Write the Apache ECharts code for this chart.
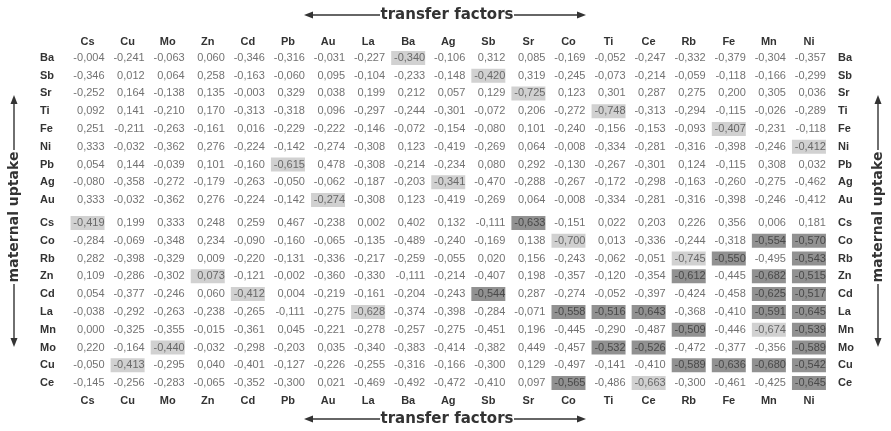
<!DOCTYPE html>
<html>
<head>
<meta charset="utf-8">
<script src="https://cdn.jsdelivr.net/npm/echarts@6/dist/echarts.min.js"></script>
<style>
  html, body { margin: 0; padding: 0; background: #ffffff; }
  #chart { width: 891px; height: 431px; }
</style>
</head>
<body>
<div id="chart"></div>
<script>
// Column elements (transfer factors)
const columns = ['Cs','Cu','Mo','Zn','Cd','Pb','Au','La','Ba','Ag','Sb','Sr','Co','Ti','Ce','Rb','Fe','Mn','Ni'];

// Row elements (maternal uptake), upper and lower blocks
const upperRows = ['Ba','Sb','Sr','Ti','Fe','Ni','Pb','Ag','Au'];
const lowerRows = ['Cs','Co','Rb','Zn','Cd','La','Mn','Mo','Cu','Ce'];

// Correlation coefficients, one array per row element, in column order
const rowBa = [-0.004,-0.241,-0.063, 0.060,-0.346,-0.316,-0.031,-0.227,-0.340,-0.106, 0.312, 0.085,-0.169,-0.052,-0.247,-0.332,-0.379,-0.304,-0.357];
const rowSb = [-0.346, 0.012, 0.064, 0.258,-0.163,-0.060, 0.095,-0.104,-0.233,-0.148,-0.420, 0.319,-0.245,-0.073,-0.214,-0.059,-0.118,-0.166,-0.299];
const rowSr = [-0.252, 0.164,-0.138, 0.135,-0.003, 0.329, 0.038, 0.199, 0.212, 0.057, 0.129,-0.725, 0.123, 0.301, 0.287, 0.275, 0.200, 0.305, 0.036];
const rowTi = [ 0.092, 0.141,-0.210, 0.170,-0.313,-0.318, 0.096,-0.297,-0.244,-0.301,-0.072, 0.206,-0.272,-0.748,-0.313,-0.294,-0.115,-0.026,-0.289];
const rowFe = [ 0.251,-0.211,-0.263,-0.161, 0.016,-0.229,-0.222,-0.146,-0.072,-0.154,-0.080, 0.101,-0.240,-0.156,-0.153,-0.093,-0.407,-0.231,-0.118];
const rowNi = [ 0.333,-0.032,-0.362, 0.276,-0.224,-0.142,-0.274,-0.308, 0.123,-0.419,-0.269, 0.064,-0.008,-0.334,-0.281,-0.316,-0.398,-0.246,-0.412];
const rowPb = [ 0.054, 0.144,-0.039, 0.101,-0.160,-0.615, 0.478,-0.308,-0.214,-0.234, 0.080, 0.292,-0.130,-0.267,-0.301, 0.124,-0.115, 0.308, 0.032];
const rowAg = [-0.080,-0.358,-0.272,-0.179,-0.263,-0.050,-0.062,-0.187,-0.203,-0.341,-0.470,-0.288,-0.267,-0.172,-0.298,-0.163,-0.260,-0.275,-0.462];
const rowAu = [ 0.333,-0.032,-0.362, 0.276,-0.224,-0.142,-0.274,-0.308, 0.123,-0.419,-0.269, 0.064,-0.008,-0.334,-0.281,-0.316,-0.398,-0.246,-0.412];

const rowCs = [-0.419, 0.199, 0.333, 0.248, 0.259, 0.467,-0.238, 0.002, 0.402, 0.132,-0.111,-0.633,-0.151, 0.022, 0.203, 0.226, 0.356, 0.006, 0.181];
const rowCo = [-0.284,-0.069,-0.348, 0.234,-0.090,-0.160,-0.065,-0.135,-0.489,-0.240,-0.169, 0.138,-0.700, 0.013,-0.336,-0.244,-0.318,-0.554,-0.570];
const rowRb = [ 0.282,-0.398,-0.329, 0.009,-0.220,-0.131,-0.336,-0.217,-0.259,-0.055, 0.020, 0.156,-0.243,-0.062,-0.051,-0.745,-0.550,-0.495,-0.543];
const rowZn = [ 0.109,-0.286,-0.302, 0.073,-0.121,-0.002,-0.360,-0.330,-0.111,-0.214,-0.407, 0.198,-0.357,-0.120,-0.354,-0.612,-0.445,-0.682,-0.515];
const rowCd = [ 0.054,-0.377,-0.246, 0.060,-0.412, 0.004,-0.219,-0.161,-0.204,-0.243,-0.544, 0.287,-0.274,-0.052,-0.397,-0.424,-0.458,-0.625,-0.517];
const rowLa = [-0.038,-0.292,-0.263,-0.238,-0.265,-0.111,-0.275,-0.628,-0.374,-0.398,-0.284,-0.071,-0.558,-0.516,-0.643,-0.368,-0.410,-0.591,-0.645];
const rowMn = [ 0.000,-0.325,-0.355,-0.015,-0.361, 0.045,-0.221,-0.278,-0.257,-0.275,-0.451, 0.196,-0.445,-0.290,-0.487,-0.509,-0.446,-0.674,-0.539];
const rowMo = [ 0.220,-0.164,-0.440,-0.032,-0.298,-0.203, 0.035,-0.340,-0.383,-0.414,-0.382, 0.449,-0.457,-0.532,-0.526,-0.472,-0.377,-0.356,-0.589];
const rowCu = [-0.050,-0.413,-0.295, 0.040,-0.401,-0.127,-0.226,-0.255,-0.316,-0.166,-0.300, 0.129,-0.497,-0.141,-0.410,-0.589,-0.636,-0.680,-0.542];
const rowCe = [-0.145,-0.256,-0.283,-0.065,-0.352,-0.300, 0.021,-0.469,-0.492,-0.472,-0.410, 0.097,-0.565,-0.486,-0.663,-0.300,-0.461,-0.425,-0.645];

const upperValues = [rowBa, rowSb, rowSr, rowTi, rowFe, rowNi, rowPb, rowAg, rowAu];
const lowerValues = [rowCs, rowCo, rowRb, rowZn, rowCd, rowLa, rowMn, rowMo, rowCu, rowCe];

const FONT = 'Liberation Sans';
const INK = '#333333';
const VALUE_INK = '#4d4d4d';
const SAME_ELEMENT_FILL = '#c6c6c6';
const STRONG_FILL = '#757575';

function fmt(v) {
  return v.toFixed(3).replace('.', ',');
}

// Build scatter points: each cell carries its coefficient as a label; the
// same-element cells and strong negative correlations get a shaded box.
function buildCells(rows, values) {
  const out = [];
  rows.forEach(function (rname, r) {
    values[r].forEach(function (v, c) {
      let fill = 'rgba(0,0,0,0)';
      let txt = VALUE_INK;
      if (columns[c] === rname) {
        fill = SAME_ELEMENT_FILL;
      } else if (v <= -0.5) {
        fill = STRONG_FILL;
        txt = '#363636';
      }
      out.push({
        value: [c, r, v],
        itemStyle: { color: fill },
        label: { color: txt }
      });
    });
  });
  return out;
}

const labelCommon = {
  show: true,
  position: 'inside',
  align: 'right',
  offset: [17, 0],
  fontFamily: FONT,
  fontSize: 11,
  formatter: function (p) { return fmt(p.value[2]); }
};

function xAxisFor(gridIndex, position, margin) {
  return {
    type: 'category', gridIndex: gridIndex, position: position, data: columns,
    axisLine: { show: false }, axisTick: { show: false }, splitLine: { show: false },
    axisLabel: { interval: 0, margin: margin, fontFamily: FONT, fontSize: 11, fontWeight: 'bold', color: INK }
  };
}
function yAxisFor(gridIndex, rows, position, margin, align) {
  return {
    type: 'category', gridIndex: gridIndex, position: position, data: rows, inverse: true,
    axisLine: { show: false }, axisTick: { show: false }, splitLine: { show: false },
    axisLabel: { interval: 0, margin: margin, align: align, fontFamily: FONT, fontSize: 11, fontWeight: 'bold', color: INK }
  };
}

// Decorative double-headed arrows with captions
const AR = '#333333';
function hArrow(y, x1, x2, t1, t2, caption, cx) {
  return [
    { type: 'line', shape: { x1: x1 + 6, y1: y, x2: t1, y2: y }, style: { stroke: AR, lineWidth: 1.4 } },
    { type: 'polygon', shape: { points: [[x1, y], [x1 + 9, y - 3.5], [x1 + 9, y + 3.5]] }, style: { fill: AR } },
    { type: 'line', shape: { x1: t2, y1: y, x2: x2 - 6, y2: y }, style: { stroke: AR, lineWidth: 1.4 } },
    { type: 'polygon', shape: { points: [[x2, y], [x2 - 9, y - 3.5], [x2 - 9, y + 3.5]] }, style: { fill: AR } },
    { type: 'text', x: cx, y: y, style: { text: caption, fill: AR, font: 'bold 15px "DejaVu Sans"', textAlign: 'center', textVerticalAlign: 'middle' } }
  ];
}
function vArrow(x, y1, y2, t1, t2, caption, cy) {
  return [
    { type: 'line', shape: { x1: x, y1: y1 + 6, x2: x, y2: t1 }, style: { stroke: AR, lineWidth: 1.4 } },
    { type: 'polygon', shape: { points: [[x, y1], [x - 3.5, y1 + 9], [x + 3.5, y1 + 9]] }, style: { fill: AR } },
    { type: 'line', shape: { x1: x, y1: t2, x2: x, y2: y2 - 6 }, style: { stroke: AR, lineWidth: 1.4 } },
    { type: 'polygon', shape: { points: [[x, y2], [x - 3.5, y2 - 9], [x + 3.5, y2 - 9]] }, style: { fill: AR } },
    { type: 'text', x: x, y: cy, rotation: Math.PI / 2, style: { text: caption, fill: AR, font: 'bold 14px "DejaVu Sans"', textAlign: 'center', textVerticalAlign: 'middle' } }
  ];
}

const chart = echarts.init(document.getElementById('chart'), null, { renderer: 'canvas' });
chart.setOption({
  animation: false,
  backgroundColor: '#ffffff',
  grid: [
    { left: 67.5, width: 761.5, top: 49, height: 160 },
    { left: 67.5, width: 761.5, top: 214, height: 178 }
  ],
  xAxis: [ xAxisFor(0, 'top', 2), xAxisFor(1, 'bottom', 3) ],
  yAxis: [
    yAxisFor(0, upperRows, 'left', 27.5, 'left'),
    yAxisFor(0, upperRows, 'right', 9, 'left'),
    yAxisFor(1, lowerRows, 'left', 27.5, 'left'),
    yAxisFor(1, lowerRows, 'right', 9, 'left')
  ],
  series: [
    {
      type: 'scatter', xAxisIndex: 0, yAxisIndex: 0,
      symbol: 'rect', symbolSize: [34, 14], label: labelCommon,
      data: buildCells(upperRows, upperValues)
    },
    {
      type: 'scatter', xAxisIndex: 1, yAxisIndex: 2,
      symbol: 'rect', symbolSize: [34, 14], label: labelCommon,
      data: buildCells(lowerRows, lowerValues)
    }
  ],
  graphic: [].concat(
    hArrow(15, 304, 586, 380, 514, 'transfer factors', 447),
    hArrow(419, 304, 586, 380, 514, 'transfer factors', 447),
    vArrow(14, 95, 347, 150, 284, 'maternal uptake', 217),
    vArrow(878, 95, 347, 150, 284, 'maternal uptake', 217)
  )
});
</script>
</body>
</html>
